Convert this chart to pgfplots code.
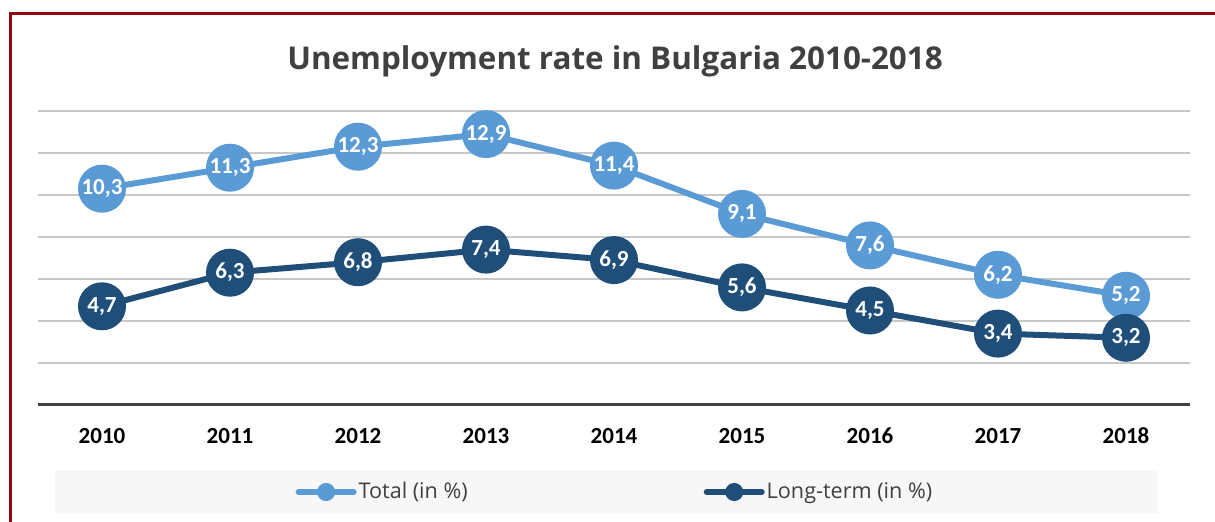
\documentclass[border=0pt]{standalone}
\usepackage{fontspec}
\setmainfont{Carlito}
\newfontfamily\osans{Open Sans}
\usepackage{pgfplots}
\pgfplotsset{compat=1.18}

\definecolor{lightblue}{RGB}{91,155,213}
\definecolor{darkblue}{RGB}{31,78,121}
\definecolor{framered}{RGB}{140,10,10}
\definecolor{txtgray}{RGB}{64,64,64}
\definecolor{gridgray}{RGB}{200,200,200}
\definecolor{legbg}{RGB}{247,247,247}

\begin{document}
\begin{tikzpicture}
\useasboundingbox (0,0) rectangle (607.5pt,261pt);
\clip (0,0) rectangle (607.5pt,261pt);
% frame and legend background
\draw[framered, line width=1.5pt] (5pt,-10pt) -- (5pt,254pt) -- (640pt,254pt);
\fill[legbg] (27.5pt,4.5pt) rectangle (579pt,26pt);
\node[anchor=base, text=txtgray, font=\osans\bfseries\fontsize{15.7}{18}\selectfont] at (307.5pt,226pt) {Unemployment rate in Bulgaria 2010-2018};

\begin{axis}[
    at={(19pt,58.5pt)}, anchor=south west,
    scale only axis, width=576pt, height=147pt,
    xmin=-0.5, xmax=8.5, ymin=0, ymax=14,
    separate axis lines,
    axis x line=bottom,
    axis y line=left,
    y axis line style={draw=none},
    x axis line style={-, line width=1.5pt, color=txtgray},
    xtick={0,...,8},
    xticklabels={2010,2011,2012,2013,2014,2015,2016,2017,2018},
    major tick length=0pt,
    xticklabel style={anchor=base, yshift=-19.5pt, font=\bfseries\fontsize{11.5}{13}\selectfont, text=black},
    ytick={2,4,...,14},
    yticklabels={},
    ymajorgrids,
    major grid style={gridgray, line width=0.75pt},
    clip=false,
    /pgf/number format/assume math mode=true,
    nodes near coords={\pgfmathprintnumber[fixed,fixed zerofill,precision=1,use comma,assume math mode=true]{\pgfplotspointmeta}},
    every node near coord/.append style={anchor=center, text=white, font=\bfseries\fontsize{11.5}{13}\selectfont},
    legend style={draw=none, fill=none, at={(0.5008,-0.296)}, anchor=center,
        font=\osans\fontsize{10.8}{13}\selectfont, text=txtgray,
        /tikz/every even column/.append style={column sep=117pt},
        nodes={inner xsep=1pt}},
    legend columns=2,
    legend image code/.code={
        \draw[line width=3pt, line cap=round] (0pt,0pt) -- (27.5pt,0pt);
        \fill (13.75pt,0pt) circle (3pt);
    },
]
\addplot[color=lightblue, line width=3pt, mark=*, mark size=10.5pt, mark options={solid}]
    coordinates {(0,10.3) (1,11.3) (2,12.3) (3,12.9) (4,11.4) (5,9.1) (6,7.6) (7,6.2) (8,5.2)};
\addplot[color=darkblue, line width=3pt, mark=*, mark size=10.5pt, mark options={solid}]
    coordinates {(0,4.7) (1,6.3) (2,6.8) (3,7.4) (4,6.9) (5,5.6) (6,4.5) (7,3.4) (8,3.2)};
\legend{Total (in \%), Long-term (in \%)}
\end{axis}
\end{tikzpicture}
\end{document}
